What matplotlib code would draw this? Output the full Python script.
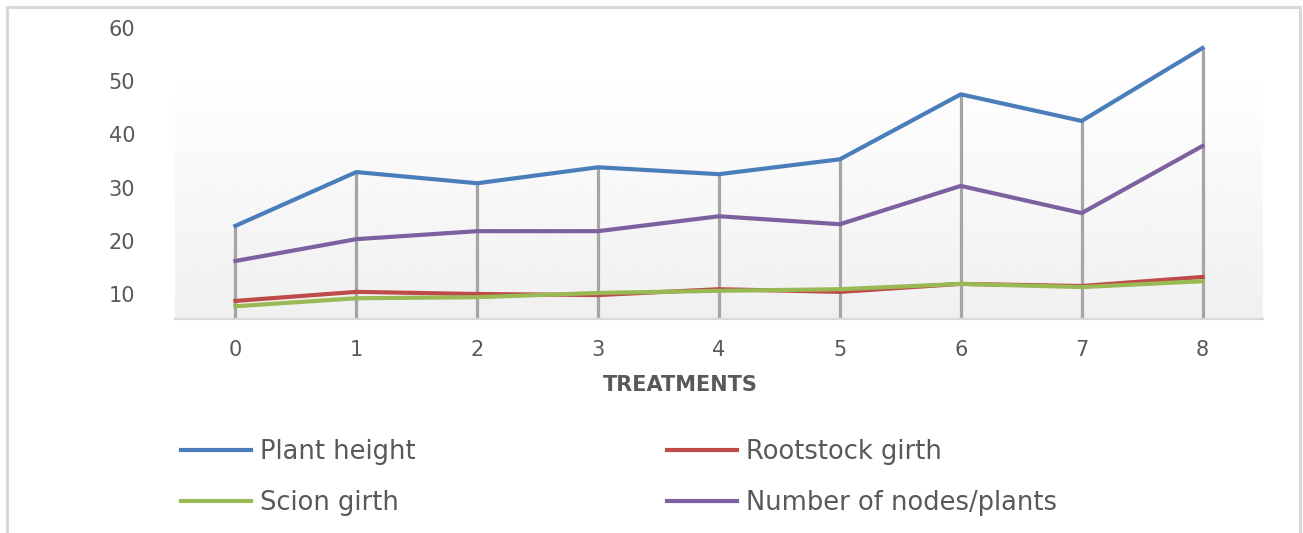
import numpy as np
import matplotlib
matplotlib.use("Agg")
import matplotlib.pyplot as plt
from matplotlib.patches import Rectangle

# data
treatments = [0, 1, 2, 3, 4, 5, 6, 7, 8]
plant_height = [22.8, 32.9, 30.8, 33.8, 32.5, 35.3, 47.5, 42.5, 56.2]
rootstock_girth = [8.7, 10.4, 10.0, 9.8, 10.9, 10.4, 11.9, 11.5, 13.2]
scion_girth = [7.7, 9.2, 9.4, 10.2, 10.6, 10.9, 11.9, 11.3, 12.4]
nodes_per_plant = [16.2, 20.3, 21.8, 21.8, 24.6, 23.1, 30.3, 25.2, 37.8]
y_ticks = [10, 20, 30, 40, 50, 60]

W, H = 1303, 533
fig = plt.figure(figsize=(W / 100, H / 100), dpi=100)
fig.patch.set_facecolor("white")

# outer chart border
fig.patches.append(Rectangle((7 / W, -0.05), (1300 - 7) / W, 1 - 7 / H + 0.05,
                             transform=fig.transFigure, fill=False,
                             edgecolor="#d9d9d9", lw=2.2, zorder=0))

ax = fig.add_axes([175 / W, 1 - 319 / H, (1263 - 175) / W, (319 - 20) / H])
ax.set_xlim(-0.5, 8.5)
ymin = 10 - 25 / 5.325
ymax = 10 + (294 - 20) / 5.325
ax.set_ylim(ymin, ymax)
ax.patch.set_alpha(0)

# gradient plot area (white at top to light grey at bottom)
grad_top = 10 + (294 - 65) / 5.325
grad = np.linspace(0.94, 1.0, 100).reshape(-1, 1)
ax.imshow(grad, extent=[-0.5, 8.5, ymin, grad_top], origin="lower",
          cmap="gray", vmin=0, vmax=1, aspect="auto", zorder=0)

# drop lines
ax.vlines(treatments, ymin, plant_height, colors="#a5a5a5", lw=2.3, zorder=1)

lw = 3.0
ax.plot(treatments, plant_height, color="#4a7ebb", lw=lw, label="Plant height", zorder=3)
ax.plot(treatments, rootstock_girth, color="#be4b48", lw=lw, label="Rootstock girth", zorder=3)
ax.plot(treatments, scion_girth, color="#98b954", lw=lw, label="Scion girth", zorder=3)
ax.plot(treatments, nodes_per_plant, color="#7d60a0", lw=lw, label="Number of nodes/plants", zorder=3)

for s in ["top", "right", "left"]:
    ax.spines[s].set_visible(False)
ax.spines["bottom"].set_color("#d9d9d9")
ax.spines["bottom"].set_linewidth(1.6)
ax.spines["bottom"].set_zorder(2)

ax.set_xticks(treatments)
ax.set_yticks(y_ticks)
ax.tick_params(axis="y", length=0, pad=28.8, labelsize=15, labelcolor="#595959")
ax.tick_params(axis="x", length=0, pad=15, labelsize=15, labelcolor="#595959")

fig.text(680 / W, 1 - 385 / H, "TREATMENTS", ha="center", va="center",
         fontsize=15, fontweight="bold", color="#595959")

handles, labels = ax.get_legend_handles_labels()
order = [0, 2, 1, 3]
leg = fig.legend([handles[i] for i in order], [labels[i] for i in order],
                 ncol=2, loc="upper left", bbox_to_anchor=(181 / W, 1 - 439 / H),
                 frameon=False, fontsize=18.5, handlelength=2.72, handletextpad=0.35,
                 columnspacing=9.8, labelspacing=0.98, borderpad=0, borderaxespad=0)
for t in leg.get_texts():
    t.set_color("#595959")
for l in leg.get_lines():
    l.set_linewidth(3.0)

fig.savefig("out.png", dpi=100)
